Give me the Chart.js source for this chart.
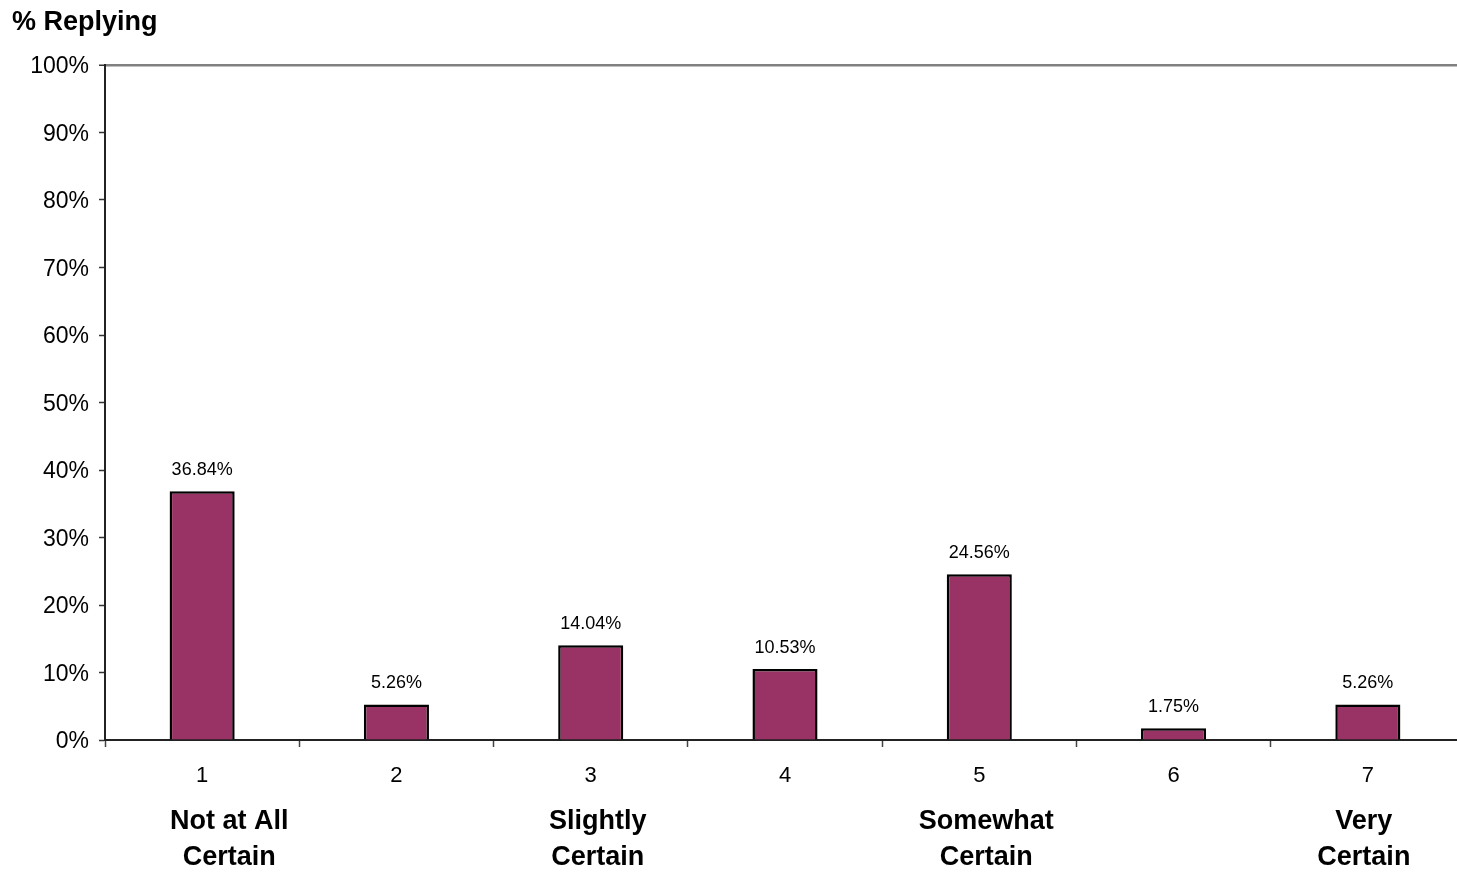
<!DOCTYPE html>
<html>
<head>
<meta charset="utf-8">
<script src="https://cdn.jsdelivr.net/npm/chart.js@4/dist/chart.umd.min.js"></script>
<style>
    html, body { margin: 0; padding: 0; background: #fff; overflow: hidden; }
    #wrap { width: 1465px; height: 873px; }
</style>
</head>
<body>
<div id="wrap"><canvas id="chart" width="1465" height="873"></canvas></div>
<script>
const categories = ['1', '2', '3', '4', '5', '6', '7'];
const replying = [36.84, 5.26, 14.04, 10.53, 24.56, 1.75, 5.26];
const yTicks = [0, 10, 20, 30, 40, 50, 60, 70, 80, 90, 100];
const scaleNotes = [
    { category: '1', lines: ['Not at All', 'Certain'] },
    { category: '3', lines: ['Slightly', 'Certain'] },
    { category: '5', lines: ['Somewhat', 'Certain'] },
    { category: '7', lines: ['Very', 'Certain'] }
];

const FONT = '"Liberation Sans", Arial, sans-serif';

// value labels above bars, axis title and the anchor notes under the axis
const textPlugin = {
    id: 'textPlugin',
    afterDatasetsDraw(chart) {
        const ctx = chart.ctx;
        const meta = chart.getDatasetMeta(0);
        ctx.save();
        ctx.fillStyle = '#000';
        ctx.textAlign = 'center';
        ctx.textBaseline = 'middle';
        ctx.font = '18px ' + FONT;
        meta.data.forEach((bar, i) => {
            ctx.fillText(replying[i].toFixed(2) + '%', bar.x, bar.y - 21);
        });
        ctx.restore();
    },
    afterDraw(chart) {
        const ctx = chart.ctx;
        const x = chart.scales.x;
        const nudge = { '1': 27, '3': 7, '5': 7, '7': -4 };
        ctx.save();
        ctx.fillStyle = '#000';
        ctx.textBaseline = 'middle';
        ctx.font = 'bold 27px ' + FONT;
        ctx.textAlign = 'left';
        ctx.fillText('% Replying', 12, 23);

        ctx.textAlign = 'center';
        ctx.font = 'bold 27px ' + FONT;
        scaleNotes.forEach(note => {
            const cx = x.getPixelForValue(categories.indexOf(note.category)) + nudge[note.category];
            note.lines.forEach((line, j) => {
                ctx.fillText(line, cx, 822 + j * 36);
            });
        });
        ctx.restore();
    }
};

new Chart(document.getElementById('chart').getContext('2d'), {
    type: 'bar',
    data: {
        labels: categories,
        datasets: [{
            label: '% Replying',
            data: replying,
            backgroundColor: '#993366',
            borderColor: '#000',
            borderWidth: 2.5,
            borderSkipped: 'bottom',
            barPercentage: 0.335,
            categoryPercentage: 1
        }]
    },
    options: {
        responsive: false,
        animation: false,
        devicePixelRatio: 1,
        layout: { padding: { top: 65, left: 0, right: 0, bottom: 0 } },
        plugins: {
            legend: { display: false },
            tooltip: { enabled: false }
        },
        scales: {
            x: {
                afterFit: scale => { scale.height = 133; },
                grid: {
                    drawOnChartArea: false,
                    offset: true,
                    tickLength: 7,
                    tickColor: '#444',
                    tickWidth: 1.5
                },
                border: { color: '#222', width: 2 },
                ticks: {
                    color: '#000',
                    font: { family: FONT, size: 22 },
                    padding: 16,
                    maxRotation: 0
                }
            },
            y: {
                min: 0,
                max: 100,
                afterFit: scale => { scale.width = 105; },
                afterBuildTicks: scale => {
                    scale.ticks = yTicks.map(v => ({ value: v }));
                },
                grid: {
                    color: c => (c.tick && c.tick.value === 100 ? '#808080' : 'rgba(0,0,0,0)'),
                    lineWidth: c => (c.tick && c.tick.value === 100 ? 2.5 : 1),
                    tickColor: '#333',
                    tickLength: 6,
                    tickWidth: 1.5
                },
                border: { color: '#222', width: 2 },
                ticks: {
                    color: '#000',
                    font: { family: FONT, size: 23 },
                    padding: 10,
                    labelOffset: 2,
                    callback: v => v + '%'
                }
            }
        }
    },
    plugins: [textPlugin]
});
</script>
</body>
</html>
